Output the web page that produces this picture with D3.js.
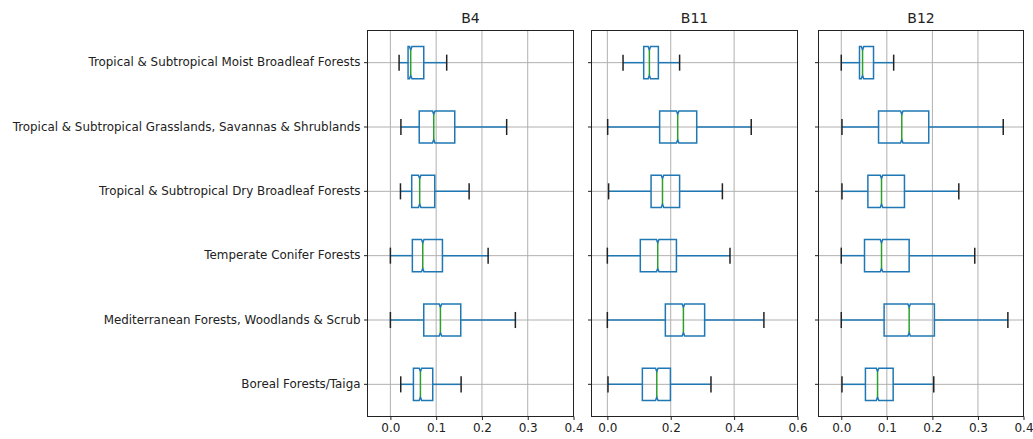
<!DOCTYPE html>
<html><head><meta charset="utf-8">
<script src="https://cdn.jsdelivr.net/npm/d3@7"></script>
<style>
html,body{margin:0;padding:0;background:#fff;}
svg text{font-family:"DejaVu Sans",sans-serif;fill:#222;}
</style></head>
<body><svg id="chart" width="1033" height="439"></svg>
<script>
const categories = [
  "Tropical & Subtropical Moist Broadleaf Forests",
  "Tropical & Subtropical Grasslands, Savannas & Shrublands",
  "Tropical & Subtropical Dry Broadleaf Forests",
  "Temperate Conifer Forests",
  "Mediterranean Forests, Woodlands & Scrub",
  "Boreal Forests/Taiga"
];
// [whiskerLow, q1, median, q3, whiskerHigh]
const b4 = [
  [0.019, 0.0386, 0.0444, 0.0729, 0.123],
  [0.023, 0.063, 0.0947, 0.1406, 0.254],
  [0.022, 0.0466, 0.064, 0.0969, 0.172],
  [0.0, 0.048, 0.0707, 0.1137, 0.2135],
  [0.0, 0.0729, 0.1093, 0.1537, 0.273],
  [0.0226, 0.0503, 0.0656, 0.0925, 0.1545]
];
const b11 = [
  [0.0495, 0.1147, 0.1326, 0.161, 0.228],
  [0.001, 0.165, 0.222, 0.282, 0.454],
  [0.004, 0.138, 0.174, 0.228, 0.363],
  [0.0, 0.104, 0.159, 0.218, 0.387],
  [0.0, 0.183, 0.24, 0.307, 0.494],
  [0.002, 0.1105, 0.156, 0.199, 0.327]
];
const b12 = [
  [0.0, 0.040, 0.0467, 0.0708, 0.115],
  [0.0015, 0.0818, 0.1328, 0.192, 0.3555],
  [0.0015, 0.0584, 0.0883, 0.1387, 0.258],
  [0.0, 0.051, 0.0883, 0.149, 0.293],
  [0.0, 0.094, 0.149, 0.2044, 0.3657],
  [0.0015, 0.053, 0.0796, 0.1139, 0.203]
];
const panelTitles = ["B4", "B11", "B12"];
const xDomains = [[-0.05, 0.4], [-0.05, 0.6], [-0.05, 0.4]];
const xTicks = [[0.0, 0.1, 0.2, 0.3, 0.4], [0.0, 0.2, 0.4, 0.6], [0.0, 0.1, 0.2, 0.3, 0.4]];

const panels = [
  {title: panelTitles[0], data: b4, domain: xDomains[0], ticks: xTicks[0], left: 367.5, right: 573.5},
  {title: panelTitles[1], data: b11, domain: xDomains[1], ticks: xTicks[1], left: 591.5, right: 797.5},
  {title: panelTitles[2], data: b12, domain: xDomains[2], ticks: xTicks[2], left: 818.5, right: 1023.5}
];
const plotTop = 30.5, plotBottom = 416.5;
const svg = d3.select("#chart");
const blue = "#1f77b4", green = "#2ca02c";

const y = d3.scaleBand().domain(categories).range([plotTop, plotBottom]);
const boxH = y.bandwidth() * 0.5;
const capH = y.bandwidth() * 0.25;

panels.forEach((p, pi) => {
  const x = d3.scaleLinear().domain(p.domain).range([p.left, p.right]);
  const g = svg.append("g");
  g.selectAll(".vg").data(p.ticks).join("line")
    .attr("x1", d => x(d)).attr("x2", d => x(d))
    .attr("y1", plotTop).attr("y2", plotBottom)
    .attr("stroke", "#b0b0b0").attr("stroke-width", 1);
  g.selectAll(".hg").data(categories).join("line")
    .attr("x1", p.left).attr("x2", p.right)
    .attr("y1", d => y(d) + y.bandwidth() / 2).attr("y2", d => y(d) + y.bandwidth() / 2)
    .attr("stroke", "#b0b0b0").attr("stroke-width", 1);

  p.data.forEach((d, i) => {
    const cy = y(categories[i]) + y.bandwidth() / 2;
    const [wl, q1, med, q3, wh] = d;
    g.append("line").attr("x1", x(wl)).attr("x2", x(q1)).attr("y1", cy).attr("y2", cy)
      .attr("stroke", blue).attr("stroke-width", 1.5);
    g.append("line").attr("x1", x(q3)).attr("x2", x(wh)).attr("y1", cy).attr("y2", cy)
      .attr("stroke", blue).attr("stroke-width", 1.5);
    [wl, wh].forEach(v => {
      g.append("line").attr("x1", x(v)).attr("x2", x(v))
        .attr("y1", cy - capH / 2).attr("y2", cy + capH / 2)
        .attr("stroke", "#222").attr("stroke-width", 1.5);
    });
    const n = 1.2;
    const inset = boxH * 0.11;
    const xm = x(med);
    const pts = [
      [x(q1), cy - boxH / 2], [xm - n, cy - boxH / 2], [xm, cy - boxH / 2 + inset],
      [xm + n, cy - boxH / 2], [x(q3), cy - boxH / 2], [x(q3), cy + boxH / 2],
      [xm + n, cy + boxH / 2], [xm, cy + boxH / 2 - inset], [xm - n, cy + boxH / 2],
      [x(q1), cy + boxH / 2]
    ];
    g.append("path").attr("d", d3.line()(pts) + "Z")
      .attr("fill", "none").attr("stroke", blue).attr("stroke-width", 1.5);
    g.append("line").attr("x1", xm).attr("x2", xm)
      .attr("y1", cy - boxH / 2 + inset).attr("y2", cy + boxH / 2 - inset)
      .attr("stroke", green).attr("stroke-width", 1.5);
  });

  g.append("rect").attr("x", p.left).attr("y", plotTop)
    .attr("width", p.right - p.left).attr("height", plotBottom - plotTop)
    .attr("fill", "none").attr("stroke", "#222").attr("stroke-width", 1);

  const xa = d3.axisBottom(x).tickValues(p.ticks).tickFormat(d3.format(".1f")).tickSize(3.5).tickPadding(3.5);
  const ax = g.append("g").attr("transform", `translate(0,${plotBottom})`).call(xa);
  ax.select(".domain").remove();
  ax.selectAll("text").attr("font-size", 12).style("fill", "#222");
  ax.selectAll("line").attr("stroke", "#222");

  const ya = d3.axisLeft(y).tickSize(3.5).tickPadding(3.5).tickFormat(pi === 0 ? (d => d) : () => "");
  const ay = g.append("g").attr("transform", `translate(${p.left},0)`).call(ya);
  ay.select(".domain").remove();
  ay.selectAll("text").attr("font-size", 11.9).style("fill", "#222");
  ay.selectAll("line").attr("stroke", "#222");

  g.append("text").attr("x", (p.left + p.right) / 2).attr("y", plotTop - 8)
    .attr("text-anchor", "middle").attr("font-size", 14).text(p.title);
});
</script></body></html>
